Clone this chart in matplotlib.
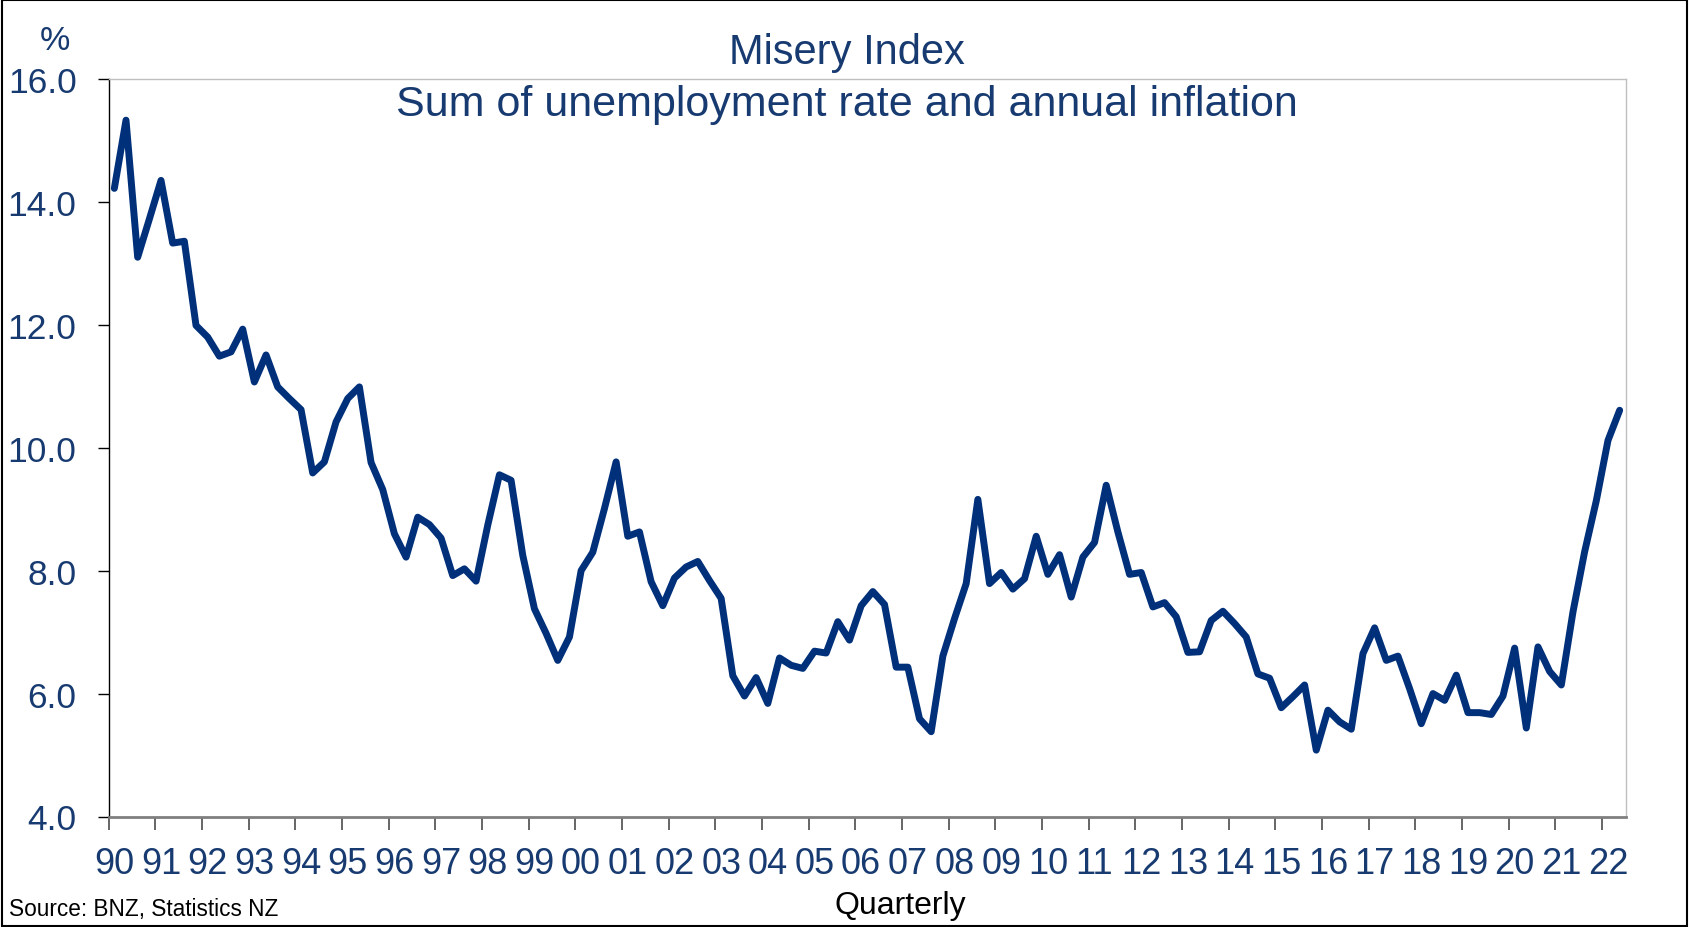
import numpy as np
import matplotlib
matplotlib.use("Agg")
import matplotlib.pyplot as plt
from matplotlib.patches import Rectangle

plt.rcParams['font.family'] = ['Liberation Sans', 'DejaVu Sans']

# -----------------------------
# Datos (trimestral, 1990 Q1 - 2022 Q2)
# -----------------------------
year_labels = ['90', '91', '92', '93', '94', '95', '96', '97', '98', '99',
               '00', '01', '02', '03', '04', '05', '06', '07', '08', '09',
               '10', '11', '12', '13', '14', '15', '16', '17', '18', '19',
               '20', '21', '22']

misery = [14.22, 15.33, 13.10, 13.72,   # 1990
          14.35, 13.33, 13.36, 11.99,   # 1991
          11.80, 11.49, 11.56, 11.93,   # 1992
          11.07, 11.51, 10.99, 10.80,   # 1993
          10.62, 9.59, 9.77, 10.42,     # 1994
          10.80, 10.99, 9.76, 9.32,     # 1995
          8.60, 8.22, 8.87, 8.75,       # 1996
          8.53, 7.92, 8.03, 7.83,       # 1997
          8.74, 9.56, 9.47, 8.25,       # 1998
          7.38, 6.98, 6.54, 6.92,       # 1999
          8.00, 8.30, 9.01, 9.77,       # 2000
          8.56, 8.63, 7.82, 7.43,       # 2001
          7.88, 8.06, 8.15, 7.84,       # 2002
          7.55, 6.29, 5.96, 6.26,       # 2003
          5.84, 6.58, 6.46, 6.41,       # 2004
          6.69, 6.66, 7.17, 6.87,       # 2005
          7.43, 7.66, 7.45, 6.43,       # 2006
          6.43, 5.59, 5.38, 6.61,       # 2007
          7.22, 7.79, 9.16, 7.79,       # 2008
          7.97, 7.70, 7.87, 8.56,       # 2009
          7.94, 8.26, 7.57, 8.22,       # 2010
          8.46, 9.39, 8.63, 7.94,       # 2011
          7.97, 7.41, 7.48, 7.25,       # 2012
          6.67, 6.68, 7.19, 7.34,       # 2013
          7.14, 6.92, 6.32, 6.25,       # 2014
          5.77, 5.95, 6.14, 5.08,       # 2015
          5.73, 5.54, 5.42, 6.65,       # 2016
          7.07, 6.54, 6.61, 6.08,       # 2017
          5.51, 6.00, 5.89, 6.30,       # 2018
          5.69, 5.69, 5.66, 5.96,       # 2019
          6.74, 5.44, 6.76, 6.36,       # 2020
          6.14, 7.33, 8.31, 9.14,       # 2021
          10.12, 10.61]                 # 2022

y_ticks = [4.0, 6.0, 8.0, 10.0, 12.0, 14.0, 16.0]

# -----------------------------
# Estilo
# -----------------------------
navy_line = '#00307A'
navy_text = '#173A70'
W, H = 1689, 928

fig = plt.figure(figsize=(W / 100, H / 100), dpi=100)
left, right, top, bottom = 108.5, 1625.5, 80, 817.5
ax = fig.add_axes([left / W, 1 - bottom / H, (right - left) / W, (bottom - top) / H])

x = np.arange(len(misery))
ax.plot(x, misery, color=navy_line, lw=5.0, solid_joinstyle='round', solid_capstyle='round')

n_q = 4 * len(year_labels) - 2
ax.set_xlim(-0.5, n_q - 0.5)
ax.set_ylim(4, 16)

# ejes
ax.spines['left'].set_color('black')
ax.spines['left'].set_linewidth(1.0)
ax.spines['bottom'].set_color('#7f7f7f')
ax.spines['bottom'].set_linewidth(2.0)
for s in ['top', 'right']:
    ax.spines[s].set_color('#bfbfbf')
    ax.spines[s].set_linewidth(1.0)

ax.set_yticks(y_ticks)
ax.set_yticklabels([f"{v:.1f}" for v in y_ticks])
ax.tick_params(axis='y', direction='out', length=8, width=1.0, color='black',
               labelsize=25.5, labelcolor=navy_text, pad=15)

# ticks en los limites de cada año, etiquetas en el primer trimestre
ax.set_xticks(np.arange(len(year_labels)) * 4 - 0.5)
ax.set_xticklabels([])
ax.set_xticks(np.arange(len(year_labels)) * 4, minor=True)
ax.set_xticklabels(year_labels, minor=True)
ax.tick_params(axis='x', which='major', direction='out', length=9, width=1.3, color='#595959')
ax.tick_params(axis='x', which='minor', length=0, labelsize=26,
               labelcolor=navy_text, pad=21)

# textos
fig.text(847 / W, 1 - 53 / H, "Misery Index", ha='center', va='center',
         fontsize=30, color=navy_text)
fig.text(847 / W, 1 - 105 / H, "Sum of unemployment rate and annual inflation",
         ha='center', va='center', fontsize=31, color=navy_text)
fig.text(55 / W, 1 - 41 / H, "%", ha='center', va='center', fontsize=24.5, color=navy_text)
fig.text(900 / W, 1 - 906 / H, "Quarterly", ha='center', va='center', fontsize=23, color='black')
fig.text(9 / W, 1 - 910 / H, "Source: BNZ, Statistics NZ", ha='left', va='center',
         fontsize=16.3, color='black')

# marco exterior
fig.add_artist(Rectangle((0.0012, 0.0015), 0.9976, 0.997, transform=fig.transFigure,
                         fill=False, ec='black', lw=1.5))

plt.savefig("out.png", dpi=100)
